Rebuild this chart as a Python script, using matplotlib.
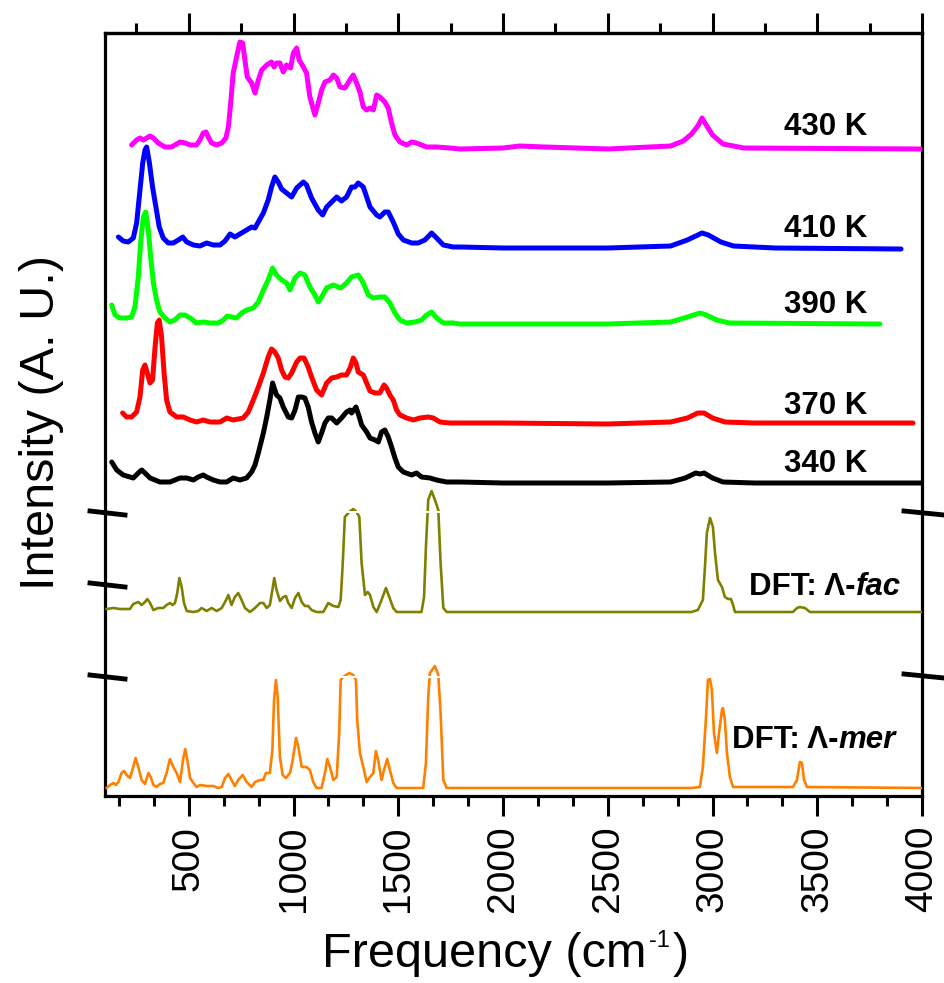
import matplotlib
matplotlib.use("Agg")
import matplotlib.pyplot as plt
from matplotlib.ticker import MultipleLocator, AutoMinorLocator
from matplotlib.lines import Line2D

plt.rcParams['font.family'] = ['Liberation Sans', 'DejaVu Sans']

# ---------------- data (frequency in cm-1, intensity in A.U. incl. vertical offset) -------------
x_340 = [132,156,187,235,259,275,291,315,362,410,458,490,522,545,569,585,617,649,681,712,744,776,800,816,832,856,872,887,900,911,919,935,951,975,991,1007,1023,1039,1054,1070,1086,1102,1118,1134,1150,1166,1182,1206,1229,1253,1269,1277,1298,1314,1325,1349,1365,1389,1405,1420,1436,1452,1468,1484,1500,1524,1564,1587,1611,1651,1683,1731,1794,2000,2500,2800,2870,2920,2940,2960,3000,3050,3200,4000]
y_340 = [334,326,321,318,323,326,323,318,314,314,318,318,316,319,321,319,316,314,314,318,316,318,324,331,343,363,379,396,413,406,401,398,389,379,378,386,399,399,398,389,374,363,354,363,373,378,378,373,378,384,386,383,389,379,371,364,358,356,354,364,366,359,349,338,329,324,321,323,319,318,316,314,314,313,313,314,318,323,322,323,318,314,313,313]

x_370 = [184,203,227,251,267,280,291,302,315,327,339,350,359,370,382,394,410,442,474,506,537,569,601,649,681,712,760,784,808,832,856,879,895,911,927,943,959,975,991,1015,1031,1050,1070,1086,1110,1134,1158,1182,1206,1229,1253,1272,1285,1298,1309,1333,1349,1365,1389,1412,1432,1444,1460,1476,1492,1508,1540,1572,1603,1643,1667,1699,1747,1794,2000,2500,2800,2880,2930,2960,3000,3060,3200,3957]
y_370 = [383,379,379,384,399,426,431,423,413,416,449,473,476,459,423,396,384,379,379,376,374,376,374,374,378,376,378,384,396,409,423,439,447,444,438,426,419,418,423,434,438,438,429,419,406,401,413,418,419,421,421,429,438,433,424,421,413,405,403,403,411,408,401,396,386,381,378,376,378,379,378,374,373,373,373,372,374,378,383,383,378,374,373,373]

x_390 = [132,148,171,203,227,243,259,270,283,294,307,318,331,346,362,386,410,434,458,482,506,537,569,601,641,665,684,704,728,752,776,808,832,856,879,900,919,943,967,983,1007,1031,1054,1078,1102,1118,1134,1158,1190,1225,1253,1277,1309,1333,1357,1381,1412,1436,1460,1484,1508,1540,1580,1611,1635,1659,1683,1715,1762,1794,2000,2500,2800,2880,2940,2970,3020,3080,3799]
y_390 = [491,481,478,478,479,489,519,553,579,584,566,539,513,496,484,478,474,476,481,481,478,473,474,473,473,476,480,479,478,483,486,488,494,506,516,528,521,516,513,506,518,523,521,509,501,494,499,508,511,508,513,519,521,513,501,498,499,499,493,483,476,473,474,476,481,484,478,473,473,472,472,472,474,479,483,481,476,473,472]

x_410 = [164,187,211,235,251,267,280,291,299,312,327,343,359,378,402,426,450,471,490,522,553,585,617,649,673,697,720,744,776,800,816,832,856,879,895,911,927,943,967,991,1015,1047,1062,1086,1118,1139,1158,1182,1206,1229,1253,1277,1293,1309,1333,1349,1365,1397,1412,1436,1452,1476,1500,1524,1564,1595,1627,1659,1683,1715,1762,1794,2000,2500,2800,2880,2950,2980,3040,3100,3300,3900]
y_410 = [559,555,554,558,573,606,633,646,649,633,609,589,569,558,553,553,556,559,554,551,550,553,551,551,555,562,559,562,566,569,568,574,583,596,609,619,614,607,603,599,608,614,611,598,586,581,589,594,599,595,599,609,609,613,609,599,589,581,579,584,584,574,562,556,553,553,556,563,558,551,549,549,548,548,550,556,563,561,554,550,548,547]

x_430 = [227,251,267,283,299,315,331,354,386,418,442,458,482,506,537,553,569,582,593,609,633,657,677,689,700,712,728,744,757,768,779,800,816,832,848,872,895,907,919,935,951,967,986,999,1015,1027,1047,1062,1078,1102,1118,1134,1150,1174,1190,1206,1222,1245,1269,1285,1301,1317,1333,1349,1365,1381,1397,1412,1436,1452,1468,1484,1508,1540,1564,1587,1635,1683,1747,1794,2000,2080,2200,2500,2800,2860,2900,2930,2950,2970,3000,3050,3150,4000]
y_430 = [651,656,658,656,658,660,658,653,649,649,652,654,653,651,651,656,663,664,659,653,651,653,658,669,693,723,739,754,753,736,719,713,703,716,726,731,734,729,733,733,724,731,728,743,748,736,729,723,699,681,693,706,714,716,721,718,709,708,716,721,713,704,689,686,688,686,701,699,694,688,673,661,654,651,654,653,649,649,648,647,648,650,649,647,650,655,662,670,678,671,661,652,648,647]

x_fac = [108,140,171,203,219,235,259,275,291,302,315,331,354,378,394,410,423,434,445,455,466,477,490,522,545,561,585,609,633,657,673,689,704,720,736,752,768,792,816,840,856,872,887,899,908,919,935,951,964,975,991,1007,1023,1039,1054,1070,1086,1110,1142,1166,1190,1214,1225,1234,1245,1266,1285,1301,1314,1325,1341,1354,1365,1381,1397,1420,1441,1457,1476,1492,1540,1611,1623,1632,1643,1659,1675,1691,1702,1715,1731,1794,2000,2500,2900,2930,2954,2964,2973,2988,3002,3012,3026,3045,3059,3074,3088,3098,3107,3384,3403,3417,3441,3465,4000]
y_fac = [187,188,187,187,187,192,194,191,194,197,193,186,188,188,191,193,191,193,203,218,209,193,185,184,185,188,185,188,185,188,194,201,191,199,203,196,188,184,188,193,193,188,191,206,218,206,195,199,200,193,188,198,203,194,190,190,186,184,184,193,190,189,196,229,279,284,287,284,279,233,201,204,201,189,184,196,208,199,188,184,184,184,199,249,296,305,296,286,233,188,184,184,184,184,184,186,196,229,263,278,269,243,216,209,199,197,197,191,184,184,188,189,188,184,184]

x_mer = [108,124,140,152,164,179,191,203,219,235,246,259,275,291,307,318,331,346,362,378,394,410,426,442,458,474,483,493,506,522,537,553,585,617,641,657,673,689,704,720,736,757,776,800,816,840,856,868,887,899,907,916,924,935,948,964,983,996,1012,1023,1039,1062,1078,1094,1110,1134,1150,1161,1174,1190,1206,1218,1225,1237,1266,1285,1298,1304,1317,1333,1349,1365,1381,1393,1404,1420,1432,1447,1460,1476,1492,1540,1619,1632,1643,1651,1675,1691,1702,1715,1731,1794,2000,2500,2900,2940,2954,2969,2978,2988,2997,3007,3021,3031,3045,3050,3059,3069,3083,3098,3384,3403,3417,3427,3437,3451,4000]
y_mer = [8,11,13,11,14,23,25,21,18,29,38,29,16,12,23,19,11,9,12,13,23,37,29,23,14,38,47,36,18,13,9,11,10,10,8,9,18,22,16,10,16,21,14,9,14,16,16,23,23,46,96,116,99,39,21,18,23,36,58,49,29,29,26,14,8,8,23,37,29,16,19,63,116,119,123,121,116,76,43,29,14,19,23,45,36,16,26,37,26,13,8,8,8,33,99,123,130,121,83,16,8,8,8,8,8,9,29,79,116,117,106,63,43,63,86,88,76,43,19,9,9,16,34,33,16,9,8]

exp_series = [(x_340, y_340, 'black'), (x_370, y_370, '#FF0000'), (x_390, y_390, '#00FF00'),
              (x_410, y_410, '#0000FF'), (x_430, y_430, '#FF00FF')]
exp_labels = ['340 K', '370 K', '390 K', '410 K', '430 K']
exp_label_y = [324, 382, 483, 559, 661]
label_x = 3340

dft_series = [(x_fac, y_fac, '#808000'), (x_mer, y_mer, '#FF8000')]
dft_names = ['fac', 'mer']
dft_label_x = [3175, 3095]
dft_label_y = [201, 48]

break_y_left = [283, 211, 119]
break_y_right = [283, 120]
gap_y = [284, 119]

# ---------------- figure -------------
W, H = 945, 983
fig = plt.figure(figsize=(W / 100, H / 100), dpi=100)
L, R, B, T = 105, 922, 796, 33
ax = fig.add_axes([L / W, (H - B) / H, (R - L) / W, (B - T) / H])
ax.set_xlim(100, 4000)
ax.set_ylim(0, 763)

for xs, ys, c in exp_series:
    ax.plot(xs, ys, color=c, lw=3.6, solid_joinstyle='round', solid_capstyle='round', zorder=3)
for xs, ys, c in dft_series:
    ax.plot(xs, ys, color=c, lw=1.9, solid_joinstyle='round', zorder=3)

# white gaps where peaks cross the axis breaks
for gy in gap_y:
    ax.axhline(gy, color='white', lw=1.4, zorder=4)

fs = 22.5
for lab, ly in zip(exp_labels, exp_label_y):
    ax.text(label_x, ly, lab, fontsize=fs, fontweight='bold', ha='left', va='baseline', zorder=5)

for name, lx, ly in zip(dft_names, dft_label_x, dft_label_y):
    t1 = ax.text(lx, ly, 'DFT: Λ-', fontsize=fs, fontweight='bold', ha='left', va='baseline', zorder=5)
    ax.annotate(name, xy=(1, 0), xycoords=t1, fontsize=fs, fontweight='bold', fontstyle='italic',
                ha='left', va='bottom', zorder=5)

# spines & ticks
for s in ax.spines.values():
    s.set_linewidth(2.3)
ax.xaxis.set_major_locator(MultipleLocator(500))
ax.xaxis.set_minor_locator(AutoMinorLocator(3))
ax.tick_params(axis='x', which='major', direction='out', length=14.5, width=2.2, labelsize=28,
               labelrotation=90, pad=7)
ax.tick_params(axis='x', which='minor', direction='out', length=7, width=2.2)
ax.set_yticks([])
ax.set_xticks([500, 1000, 1500, 2000, 2500, 3000, 3500, 4000])

top = ax.secondary_xaxis('top')
top.xaxis.set_major_locator(MultipleLocator(500))
top.xaxis.set_minor_locator(MultipleLocator(250))
top.tick_params(which='major', direction='out', length=14.5, width=2.2, labelbottom=False, labeltop=False)
top.tick_params(which='minor', direction='out', length=7, width=2.2)
top.spines['top'].set_linewidth(2.3)

# x label: "Frequency (cm" + superscript "-1" + ")"
xl1 = fig.text(322 / W, (H - 967) / H, 'Frequency (cm', fontsize=35, ha='left', va='baseline')
xl2 = ax.annotate('-1', xy=(1.0, 0.80), xycoords=xl1, xytext=(2, 0), textcoords='offset points',
                  fontsize=17, ha='left', va='center', annotation_clip=False)
xl3 = ax.annotate(')', xy=(1, 0), xycoords=(xl2, xl1), xytext=(2, 0), textcoords='offset points',
                  fontsize=35, ha='left', va='bottom', annotation_clip=False)

ax.set_ylabel('Intensity (A. U.)', fontsize=35)
ax.yaxis.set_label_coords(-0.05, 0.49)

# axis break marks drawn across the spines
trans = ax.get_yaxis_transform()
for by in break_y_left:
    ax.add_line(Line2D([-15 / (R - L), 20 / (R - L)], [by + 2, by - 2], transform=trans,
                       color='black', lw=3.5, clip_on=False, zorder=6))
for by in break_y_right:
    ax.add_line(Line2D([1 - 18 / (R - L), 1 + 22 / (R - L)], [by + 2, by - 2], transform=trans,
                       color='black', lw=3.5, clip_on=False, zorder=6))

fig.savefig('out.png', dpi=100)
